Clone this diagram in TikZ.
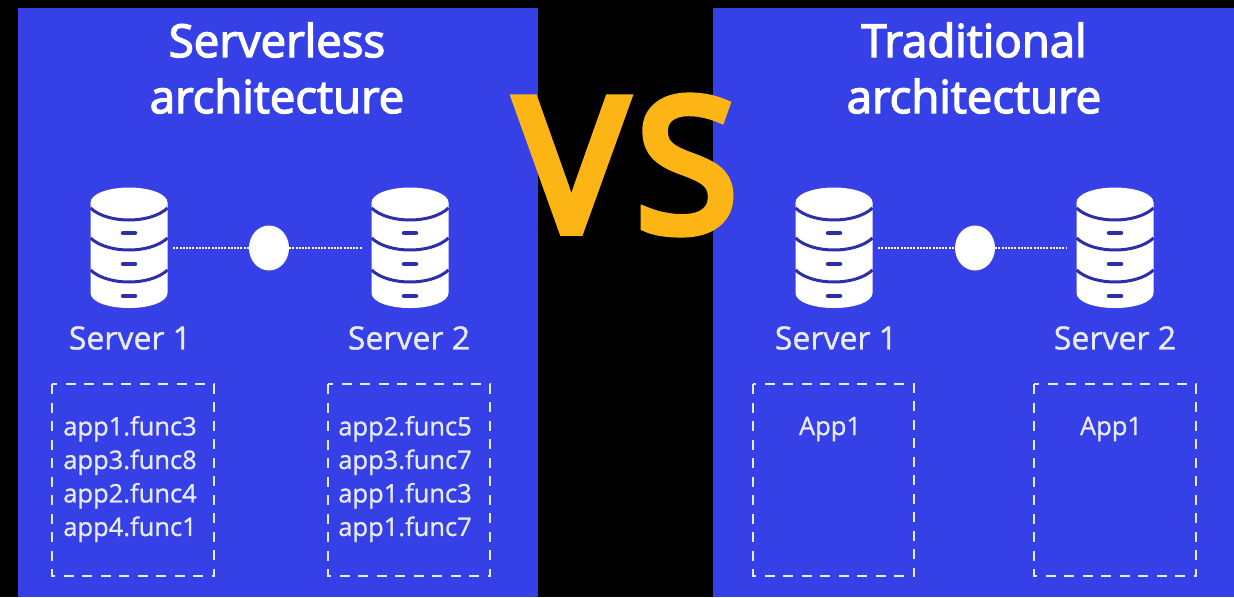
\documentclass[tikz,border=0pt]{standalone}
\usepackage{fontspec}
\setmainfont{Open Sans}
\newfontfamily\heavyfont[FakeBold=3]{Open Sans}
\newfontfamily\midfont[FakeBold=1]{Open Sans}
\newfontfamily\vsfont[FakeBold=5.5]{Open Sans}
\definecolor{panelblue}{HTML}{3540E6}
\definecolor{iconblue}{HTML}{2E2FA8}
\definecolor{vsgold}{HTML}{FDB515}
\definecolor{softwhite}{HTML}{E8EBFB}
\tikzset{
  x=1pt,y=-1pt,
  panel/.style={fill=panelblue,draw=none},
  srv/.style={minimum width=78pt,minimum height=120pt,inner sep=0pt,draw=none},
  hub/.style={ellipse,fill=white,draw=none,minimum width=40pt,minimum height=45pt,inner sep=0pt},
  link/.style={white,line width=1.3pt,dash pattern=on 2pt off 1.2pt},
  title/.style={text=white,font=\heavyfont\fontsize{45.5}{56}\selectfont,align=center,inner sep=0pt},
  srvlabel/.style={text=softwhite,font=\midfont\fontsize{32}{38}\selectfont,inner sep=0pt},
  funcs/.style={text=softwhite,font=\midfont\fontsize{25.5}{33.5}\selectfont,align=center,inner sep=0pt},
  dashbox/.style={draw=softwhite,line width=2pt,dash pattern=on 10pt off 8.5pt},
  pics/dbicon/.style={code={
    \fill[white,rounded corners=1pt] (-38.5,-46) -- (-38.5,44) .. controls (-38.5,54) and (-20,60) .. (0,60) .. controls (20,60) and (38.5,54) .. (38.5,44) -- (38.5,-46) -- cycle;
    \fill[white] (0,-45.5) ellipse[x radius=38.5,y radius=15];
    \foreach \yy in {-40,-10,22}{
      \draw[iconblue,line width=3pt] (-38.5,\yy) .. controls (-30,\yy+8) and (-15,\yy+12) .. (0,\yy+12) .. controls (15,\yy+12) and (30,\yy+8) .. (38.5,\yy);
    }
    \foreach \yy in {-15,16,48}{
      \draw[iconblue,line width=4.5pt,line cap=round] (-6,\yy) -- (6,\yy);
    }
  }}
}
\usetikzlibrary{shapes.geometric}
\begin{document}
\begin{tikzpicture}
\useasboundingbox (0,0) rectangle (1234,597);
\fill[black] (0,0) rectangle (1234,597);
\fill[panel] (18,8) rectangle (538,597);
\fill[panel] (713,8) rectangle (1234,597);

\node[title] (t1) at (277,68) {Serverless\\architecture};
\node[title] (t2) at (974,68) {Traditional\\architecture};

\node[srv] (a1) at (129,248) {};
\node[srv] (a2) at (410,248) {};
\node[srv] (b1) at (834,248) {};
\node[srv] (b2) at (1115,248) {};
\foreach \n in {a1,a2,b1,b2} \path (\n.center) pic {dbicon};

\node[hub] (ha) at (269,248) {};
\node[hub] (hb) at (975,248) {};
\draw[link,shorten <=5pt] (a1.east |- ha.west) -- (ha.west);
\draw[link,shorten >=9pt] (ha.east) -- (a2.west |- ha.east);
\draw[link,shorten <=5pt] (b1.east |- hb.west) -- (hb.west);
\draw[link,shorten >=9pt] (hb.east) -- (b2.west |- hb.east);

\node[srvlabel] (l1) at (130,338) {Server 1};
\node[srvlabel] (l2) at (409,338) {Server 2};
\node[srvlabel] (l3) at (836,338) {Server 1};
\node[srvlabel] (l4) at (1115,338) {Server 2};

\draw[dashbox] (52,384) rectangle (214,576);
\draw[dashbox] (328,384) rectangle (490,576);
\draw[dashbox] (753,384) rectangle (914,576);
\draw[dashbox] (1034,384) rectangle (1196,576);

\node[funcs] (f1) at (130,479) {app1.func3\\app3.func8\\app2.func4\\app4.func1};
\node[funcs] (f2) at (405,479) {app2.func5\\app3.func7\\app1.func3\\app1.func7};
\node[funcs] (f3) at (830,429) {App1};
\node[funcs] (f4) at (1111,429) {App1};

\node[text=vsgold,font=\vsfont\fontsize{184}{184}\selectfont,inner sep=0pt] (vs) at (627,165) {V\kern10pt S};
\end{tikzpicture}
\end{document}
